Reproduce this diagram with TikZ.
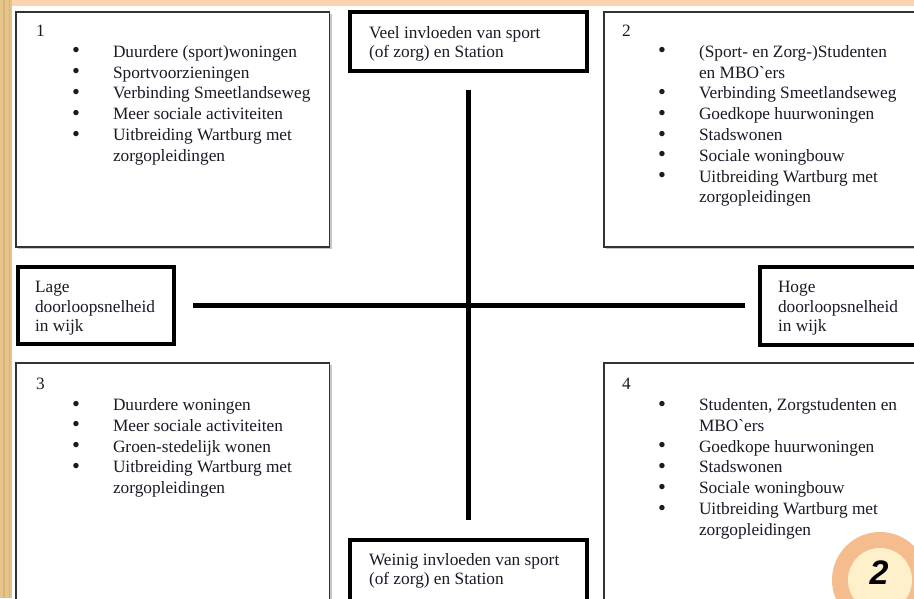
\documentclass[tikz,border=0pt]{standalone}
\usepackage{fontspec}
\setmainfont{Liberation Serif}
\newfontfamily\rawserif{Liberation Serif}
\newfontfamily\badgefont{Liberation Sans}
\newcommand\grv{{\rawserif\symbol{96}}}
\definecolor{txtc}{HTML}{1A1A26}
\definecolor{beige}{HTML}{E4C488}
\definecolor{beigedark}{HTML}{D9B574}
\definecolor{peach}{HTML}{FAD4B0}
\definecolor{badgeout}{HTML}{F5BD8D}
\definecolor{badgein}{HTML}{FEF0CA}
\begin{document}
\begin{tikzpicture}[x=1pt,y=-1pt,
  quad/.style={draw=black!80, line width=1.3pt, fill=white, anchor=north west, outer sep=0pt, inner sep=0pt, rectangle},
  lab/.style={draw=black, line width=4pt, fill=white, anchor=north west, outer sep=0pt, inner sep=0pt, rectangle},
  txt/.style={anchor=base west, inner sep=0pt, outer sep=0pt, text=txtc, font=\fontsize{17.3}{20.8}\selectfont},
  bl/.style={txt, execute at begin node={\llap{\raisebox{-0.6pt}{\scalebox{1.3}{\textbullet}}\hspace{33pt}}}},
  axisline/.style={line width=5pt, black}]
\useasboundingbox (0,0) rectangle (914,598);
\clip (0,0) rectangle (914,598);
\fill[white] (0,0) rectangle (914,598);
\fill[peach] (0,0) rectangle (914,6);
\fill[beige] (0,0) rectangle (12,598);
\fill[beigedark] (3,0) rectangle (5,598);
\fill[beigedark] (9,0) rectangle (10,598);

% shadows of quadrant boxes
\fill[black!22] (17.5,13.5) rectangle (331.5,249);
\fill[black!22] (605.5,13.5) rectangle (930,249);
\fill[black!22] (17.5,364.5) rectangle (331.5,620);
\fill[black!22] (605.5,364.5) rectangle (930,620);

% quadrant boxes
\node[quad, minimum width=313.5pt, minimum height=235pt] (q1) at (16,12) {};
\node[quad, minimum width=330pt, minimum height=235pt] (q2) at (604,12) {};
\node[quad, minimum width=313.5pt, minimum height=260pt] (q3) at (16,363) {};
\node[quad, minimum width=330pt, minimum height=260pt] (q4) at (604,363) {};

% label boxes
\node[lab, minimum width=237pt, minimum height=59pt] (top) at (350,12) {};
\node[lab, minimum width=237pt, minimum height=80pt] (bot) at (350,540) {};
\node[lab, minimum width=156pt, minimum height=77pt] (lage) at (18,267) {};
\node[lab, minimum width=170pt, minimum height=78pt] (hoge) at (760,267) {};

% axes
\coordinate (vt) at (468,90);
\coordinate (vb) at (468,520);
\coordinate (hl) at (193,305);
\coordinate (hr) at (745,305);
\draw[axisline] (vt) -- (vb);
\draw[axisline] (hl) -- (hr);

% label texts
\node[txt] (top1) at (369,38) {Veel invloeden van sport};
\node[txt] (top2) at (369,57.5) {(of zorg) en Station};
\node[txt] (bot1) at (369,565) {Weinig invloeden van sport};
\node[txt] (bot2) at (369,584.5) {(of zorg) en Station};
\node[txt] (lage1) at (35,292) {Lage};
\node[txt] (lage2) at (35,312) {doorloopsnelheid};
\node[txt] (lage3) at (35,331.5) {in wijk};
\node[txt] (hoge1) at (778,292) {Hoge};
\node[txt] (hoge2) at (778,312) {doorloopsnelheid};
\node[txt] (hoge3) at (778,331.5) {in wijk};

% quadrant 1
\node[txt] (n1) at (36,36.5) {1};
\node[bl] (a1) at (113,57.3) {Duurdere (sport)woningen};
\node[bl] (a2) at (113,78.1) {Sportvoorzieningen};
\node[bl] (a3) at (113,98.9) {Verbinding Smeetlandseweg};
\node[bl] (a4) at (113,119.7) {Meer sociale activiteiten};
\node[bl] (a5) at (113,140.5) {Uitbreiding Wartburg met};
\node[txt] (a6) at (113,161.3) {zorgopleidingen};

% quadrant 2
\node[txt] (n2) at (622,36.5) {2};
\node[bl] (b1) at (699,57.3) {(Sport- en Zorg-)Studenten};
\node[txt] (b2) at (699,78.1) {en MBO\grv ers};
\node[bl] (b3) at (699,98.9) {Verbinding Smeetlandseweg};
\node[bl] (b4) at (699,119.7) {Goedkope huurwoningen};
\node[bl] (b5) at (699,140.5) {Stadswonen};
\node[bl] (b6) at (699,161.3) {Sociale woningbouw};
\node[bl] (b7) at (699,182.1) {Uitbreiding Wartburg met};
\node[txt] (b8) at (699,202.9) {zorgopleidingen};

% quadrant 3
\node[txt] (n3) at (36,389.5) {3};
\node[bl] (c1) at (113,410.5) {Duurdere woningen};
\node[bl] (c2) at (113,431.3) {Meer sociale activiteiten};
\node[bl] (c3) at (113,452.1) {Groen-stedelijk wonen};
\node[bl] (c4) at (113,472.9) {Uitbreiding Wartburg met};
\node[txt] (c5) at (113,493.7) {zorgopleidingen};

% quadrant 4
\node[txt] (n4) at (622,389.5) {4};
\node[bl] (d1) at (699,410.5) {Studenten, Zorgstudenten en};
\node[txt] (d2) at (699,431.3) {MBO\grv ers};
\node[bl] (d3) at (699,452.1) {Goedkope huurwoningen};
\node[bl] (d4) at (699,472.9) {Stadswonen};
\node[bl] (d5) at (699,493.7) {Sociale woningbouw};
\node[bl] (d6) at (699,514.5) {Uitbreiding Wartburg met};
\node[txt] (d7) at (699,535.3) {zorgopleidingen};

% badge
\node[circle, fill=badgeout, minimum size=96pt, inner sep=0pt] (badge) at (880,580) {};
\node[circle, fill=badgein, minimum size=64pt, inner sep=0pt] (badgeinner) at (880,580) {};
\node[inner sep=0pt, font=\badgefont\bfseries\itshape\fontsize{34}{34}\selectfont] (badgenum) at (879,573) {2};
\end{tikzpicture}
\end{document}
